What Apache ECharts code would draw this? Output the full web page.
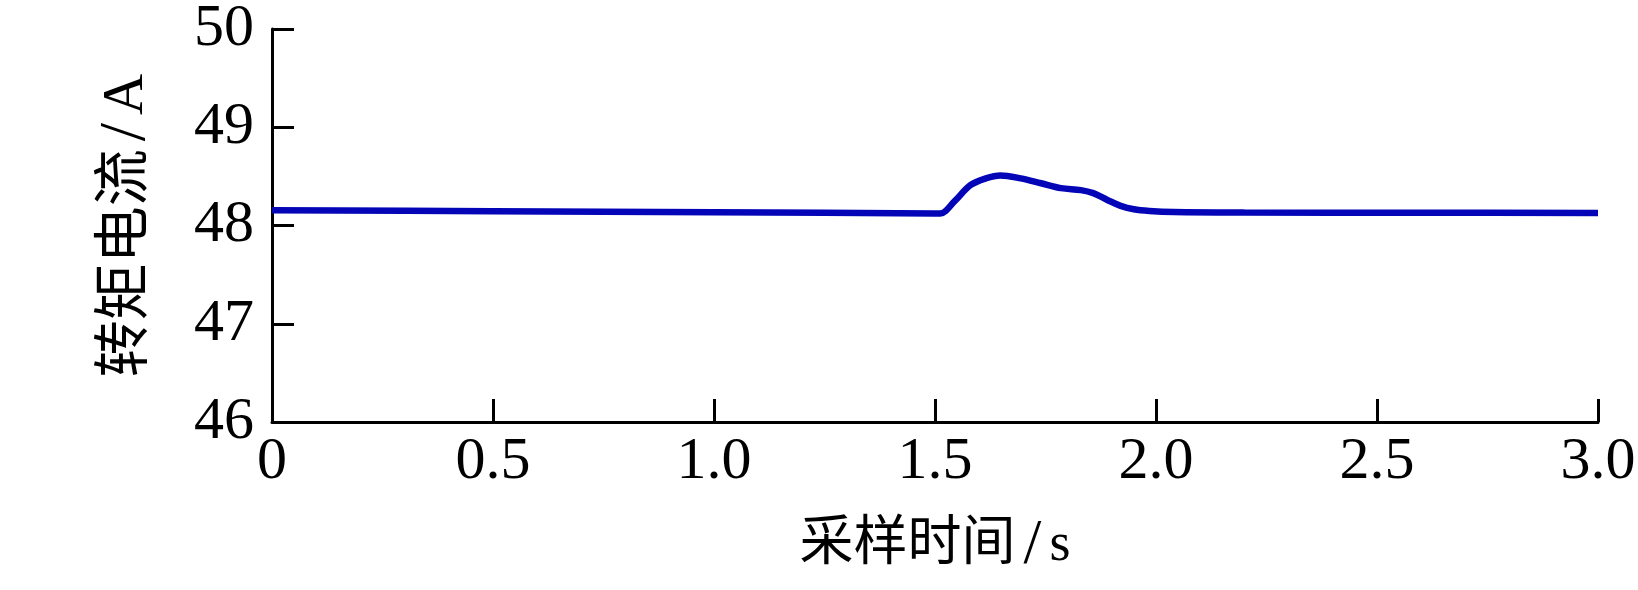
<!DOCTYPE html>
<html>
<head>
<meta charset="utf-8">
<script src="https://cdn.jsdelivr.net/npm/echarts@6/dist/echarts.min.js"></script>
<style>
    html, body { margin: 0; padding: 0; background: #fff; }
    #chart { width: 1638px; height: 590px; }
</style>
</head>
<body>
<div id="chart"></div>
<script>
// sampling time (s) and torque current (A)
const sampleTime = [0, 0.5, 1.0, 1.5, 1.512, 1.545, 1.58, 1.615, 1.648, 1.694, 1.74, 1.785, 1.83, 1.858, 1.89, 1.92, 1.95, 1.985, 2.04, 2.2, 2.6, 3.0];
const torqueCurrent = [48.155, 48.145, 48.135, 48.123, 48.122, 48.25, 48.41, 48.48, 48.51, 48.48, 48.43, 48.38, 48.36, 48.33, 48.26, 48.2, 48.165, 48.148, 48.137, 48.132, 48.13, 48.128];

const xTicks = ['0', '0.5', '1.0', '1.5', '2.0', '2.5', '3.0'];

const serif = "'Liberation Serif', 'Times New Roman', 'Noto Sans CJK SC'";

const myChart = echarts.init(document.getElementById('chart'));

const option = {
    animation: false,
    backgroundColor: '#ffffff',
    grid: {
        left: 272,
        right: 40,
        top: 29,
        bottom: 168,
        containLabel: false,
        outerBoundsMode: 'none'
    },
    xAxis: {
        type: 'value',
        min: 0,
        max: 3,
        interval: 0.5,
        name: '采样时间{sl|/}s',
        nameLocation: 'middle',
        nameGap: 92,
        nameTextStyle: {
            color: '#000',
            fontFamily: serif,
            fontSize: 54,
            rich: {
                sl: {fontFamily: serif, fontSize: 64, color: '#000', padding: [0, 8]}
            }
        },
        axisLine: {lineStyle: {color: '#000', width: 3}},
        axisTick: {inside: true, length: 23, lineStyle: {color: '#000', width: 3}},
        axisLabel: {
            color: '#000',
            fontFamily: serif,
            fontSize: 60,
            margin: 10,
            formatter: (value) => xTicks[Math.round(value * 2)]
        },
        splitLine: {show: false}
    },
    yAxis: {
        type: 'value',
        min: 46,
        max: 50,
        interval: 1,
        name: '转矩电流{sl|/}A',
        nameLocation: 'middle',
        nameGap: 112,
        nameTextStyle: {
            color: '#000',
            fontFamily: serif,
            fontSize: 57,
            rich: {
                sl: {fontFamily: serif, fontSize: 66, color: '#000', padding: [0, 8]}
            }
        },
        axisLine: {show: true, lineStyle: {color: '#000', width: 3}},
        axisTick: {show: true, inside: true, length: 22, lineStyle: {color: '#000', width: 3}},
        axisLabel: {
            color: '#000',
            fontFamily: serif,
            fontSize: 60,
            margin: 18
        },
        splitLine: {show: false}
    },
    series: [
        {
            type: 'line',
            data: sampleTime.map((t, i) => [t, torqueCurrent[i]]),
            showSymbol: false,
            smooth: 0.35,
            lineStyle: {color: '#0505b8', width: 6.5},
            itemStyle: {color: '#0505b8'}
        }
    ]
};
myChart.setOption(option);
</script>
</body>
</html>
